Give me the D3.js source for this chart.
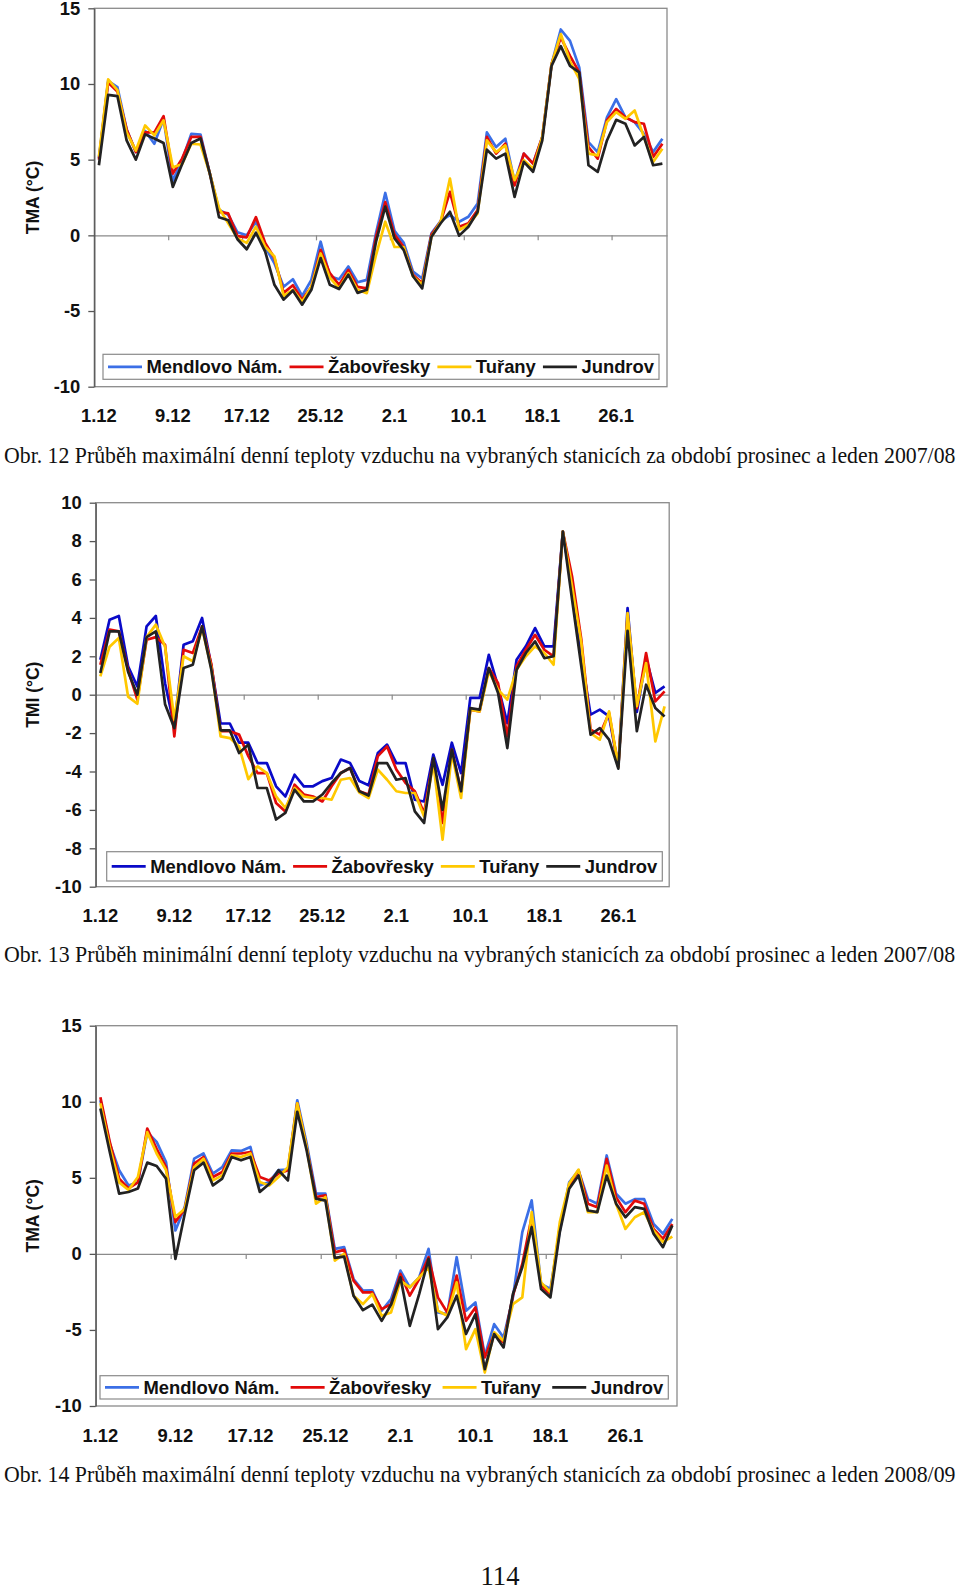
<!DOCTYPE html>
<html>
<head>
<meta charset="utf-8">
<script src="https://cdn.jsdelivr.net/npm/d3@7"></script>
<style>
body { margin: 0; background: #fff; }
svg { display: block; }
</style>
</head>
<body>
<div class="viz"></div>
<script>
// categories: 1.12 .. 31.12, 1.1 .. 31.1
const days = [
    '1.12', '2.12', '3.12', '4.12', '5.12', '6.12', '7.12', '8.12', '9.12', '10.12', '11.12', '12.12', '13.12', '14.12', '15.12', '16.12',
    '17.12', '18.12', '19.12', '20.12', '21.12', '22.12', '23.12', '24.12', '25.12', '26.12', '27.12', '28.12', '29.12', '30.12', '31.12',
    '1.1', '2.1', '3.1', '4.1', '5.1', '6.1', '7.1', '8.1', '9.1', '10.1', '11.1', '12.1', '13.1', '14.1', '15.1', '16.1',
    '17.1', '18.1', '19.1', '20.1', '21.1', '22.1', '23.1', '24.1', '25.1', '26.1', '27.1', '28.1', '29.1', '30.1', '31.1'
];
const tickLabels = ['1.12', '9.12', '17.12', '25.12', '2.1', '10.1', '18.1', '26.1'];
const stations = ['Mendlovo Nám.', 'Žabovřesky', 'Tuřany', 'Jundrov'];
const tmaTicks = [-10, -5, 0, 5, 10, 15];
const tmiTicks = [-10, -8, -6, -4, -2, 0, 2, 4, 6, 8, 10];

// Obr. 12 - TMA 2007/08
const tma0708Mendlovo = [5.1, 10.2, 9.8, 7.0, 5.5, 6.9, 6.05, 7.7, 3.6, 4.95, 6.7, 6.65, 4.1, 1.7, 1.35, 0.2, 0.0, 0.9, -0.75, -1.85, -3.4, -2.9, -4.0, -2.94, -0.42, -2.7, -2.9, -2.06, -3.1, -2.94, 0.15,
    2.8, 0.3, -0.5, -2.4, -2.85, 0.13, 0.95, 1.34, 0.9, 1.23, 2.1, 6.8, 5.83, 6.38, 3.53, 5.4, 4.74, 6.5, 11.3, 13.6, 12.85, 11.1, 6.16, 5.5, 7.8, 9.0, 7.8, 7.48, 6.7, 5.5, 6.38];
const tma0708Zabovresky = [5.0, 10.1, 9.5, 7.0, 5.5, 6.8, 6.8, 7.87, 4.08, 5.07, 6.5, 6.5, 4.1, 1.55, 1.45, -0.05, -0.13, 1.2, -0.5, -1.5, -3.8, -3.3, -4.25, -3.4, -0.96, -2.5, -3.27, -2.28, -3.4, -3.5, -0.1,
    2.2, 0.05, -0.77, -2.6, -3.16, 0.05, 0.9, 2.87, 0.57, 0.8, 1.67, 6.5, 5.4, 6.05, 3.3, 5.4, 4.74, 6.5, 11.3, 13.07, 11.86, 10.77, 5.83, 5.07, 7.6, 8.35, 7.8, 7.48, 7.37, 5.18, 6.05];
const tma0708Turany = [5.2, 10.3, 9.6, 6.8, 5.6, 7.26, 6.6, 7.6, 4.5, 4.7, 6.05, 6.0, 4.1, 1.8, 0.8, -0.2, -0.5, 0.57, -0.75, -1.4, -4.0, -3.6, -4.4, -3.4, -1.2, -2.8, -3.5, -2.5, -3.6, -3.82, -1.3,
    0.9, -0.77, -0.77, -2.7, -3.27, -0.09, 0.9, 3.75, 0.35, 0.7, 1.45, 6.27, 5.5, 5.94, 3.64, 4.96, 4.4, 6.5, 11.3, 13.3, 11.5, 10.33, 5.4, 5.28, 7.48, 8.14, 7.7, 8.25, 6.5, 4.85, 5.72];
const tma0708Jundrov = [4.63, 9.28, 9.2, 6.27, 5.0, 6.67, 6.4, 6.1, 3.2, 4.7, 6.1, 6.4, 4.1, 1.2, 1.0, -0.26, -0.92, 0.17, -1.07, -3.27, -4.25, -3.64, -4.58, -3.6, -1.5, -3.27, -3.55, -2.6, -3.8, -3.6, -0.42,
    1.9, -0.2, -0.98, -2.7, -3.5, -0.09, 0.8, 1.56, -0.02, 0.57, 1.56, 5.66, 5.07, 5.4, 2.54, 4.85, 4.2, 6.27, 11.2, 12.5, 11.2, 10.77, 4.63, 4.19, 6.27, 7.63, 7.37, 5.94, 6.5, 4.63, 4.74];

// Obr. 13 - TMI 2007/08
const tmi0708Mendlovo = [1.82, 3.9, 4.1, 1.48, 0.43, 3.56, 4.1, 0.6, -1.65, 2.6, 2.78, 4.0, 1.5, -1.5, -1.5, -2.5, -2.5, -3.56, -3.56, -4.77, -5.3, -4.17, -4.77, -4.77, -4.5, -4.34, -3.38, -3.56, -4.5, -4.72, -3.04,
    -2.6, -3.56, -3.56, -5.47, -5.56, -3.12, -4.69, -2.5, -4.08, -0.17, -0.17, 2.08, 0.43, -1.48, 1.82, 2.52, 3.47, 2.52, 2.52, 8.5, 5.47, 2.0, -1.04, -0.78, -1.13, -3.75, 4.51, -0.9, 1.9, 0.09, 0.43];
const tmi0708Zabovresky = [1.56, 3.39, 3.3, 1.3, -0.26, 2.86, 3.0, 2.6, -2.17, 2.34, 2.17, 3.56, 1.6, -1.9, -1.9, -2.08, -3.2, -4.08, -4.08, -5.64, -6.08, -4.69, -5.2, -5.3, -5.56, -4.77, -4.08, -3.82, -5.03, -5.2, -3.2,
    -2.7, -3.9, -4.6, -5.03, -6.16, -3.38, -6.68, -2.86, -5.03, -0.78, -0.87, 1.39, 0.6, -2.17, 1.48, 2.34, 3.12, 2.34, 2.0, 8.5, 6.16, 2.86, -1.82, -2.08, -0.95, -3.75, 4.1, -0.7, 2.17, -0.35, 0.17];
const tmi0708Turany = [0.95, 2.5, 2.95, -0.1, -0.47, 3.0, 3.65, 2.5, -1.3, 2.0, 1.74, 3.47, 1.4, -2.17, -2.26, -2.7, -4.4, -3.73, -4.08, -5.3, -5.9, -4.86, -5.3, -5.38, -5.38, -5.47, -4.43, -4.34, -5.1, -5.38, -3.9,
    -4.43, -5.03, -5.12, -5.12, -6.34, -3.56, -7.55, -3.04, -5.38, -0.78, -0.87, 1.22, 0.26, -0.26, 1.3, 2.0, 2.52, 2.17, 1.56, 8.5, 5.64, 2.7, -2.0, -2.34, -0.87, -3.75, 4.25, -0.6, 1.65, -2.43, -0.61];
const tmi0708Jundrov = [1.13, 3.3, 3.3, 1.2, 0.0, 3.0, 3.3, -0.5, -1.74, 1.39, 1.56, 3.56, 1.3, -1.86, -1.86, -3.04, -2.6, -4.86, -4.86, -6.5, -6.16, -4.95, -5.56, -5.56, -5.2, -4.6, -4.08, -3.82, -5.03, -5.25, -3.56,
    -3.56, -4.43, -4.34, -6.08, -6.68, -3.3, -6.0, -2.86, -5.03, -0.7, -0.78, 1.39, 0.09, -2.78, 1.3, 2.17, 2.78, 1.9, 2.0, 8.5, 4.95, 1.47, -2.08, -1.74, -2.34, -3.85, 3.33, -1.9, 0.52, -0.69, -1.13];

// Obr. 14 - TMA 2008/09
const tma0809Mendlovo = [10.1, 7.25, 5.5, 4.5, 4.7, 8.0, 7.36, 6.04, 1.54, 3.08, 6.26, 6.6, 5.27, 5.7, 6.8, 6.77, 7.03, 4.5, 4.73, 5.5, 5.54, 10.1, 7.25, 3.96, 3.96, 0.33, 0.44, -1.65, -2.42, -2.4, -3.74,
    -2.97, -1.1, -2.2, -1.54, 0.33, -3.85, -3.96, -0.22, -3.74, -3.19, -6.7, -4.62, -5.5, -2.86, 1.43, 3.52, -1.98, -2.31, 1.54, 4.7, 5.48, 3.6, 3.3, 6.47, 3.95, 3.3, 3.6, 3.6, 1.97, 1.32, 2.3];
const tma0809Zabovresky = [10.3, 7.36, 4.95, 4.3, 4.7, 8.24, 6.9, 5.7, 2.09, 2.97, 5.93, 6.37, 5.05, 5.38, 6.6, 6.6, 6.7, 5.05, 4.83, 5.27, 5.5, 9.9, 7.0, 3.74, 3.85, 0.1, 0.26, -1.76, -2.53, -2.53, -3.63,
    -3.3, -1.32, -2.75, -1.65, -0.22, -2.86, -3.85, -1.43, -4.4, -3.52, -6.81, -5.27, -5.82, -2.75, -0.66, 2.42, -2.09, -2.64, 1.76, 4.5, 5.48, 3.3, 3.07, 6.25, 3.73, 2.74, 3.5, 3.3, 1.64, 0.99, 1.97];
const tma0809Turany = [9.9, 7.0, 4.7, 4.2, 5.05, 8.0, 6.6, 5.5, 2.42, 2.97, 5.7, 6.26, 4.83, 5.16, 6.48, 6.37, 6.6, 4.73, 4.5, 5.05, 5.7, 9.9, 7.0, 3.3, 3.74, -0.44, 0.0, -2.75, -3.3, -2.64, -4.07,
    -3.85, -1.76, -2.2, -1.54, -0.88, -3.74, -4.07, -1.87, -6.26, -4.95, -7.8, -5.16, -5.71, -3.3, -2.86, 2.75, -1.87, -2.53, 2.09, 4.62, 5.54, 2.74, 2.74, 5.8, 3.3, 1.64, 2.41, 2.74, 1.53, 0.77, 1.14];
const tma0809Jundrov = [9.56, 6.7, 3.96, 4.07, 4.3, 6.0, 5.78, 4.95, -0.33, 2.64, 5.5, 6.0, 4.5, 4.95, 6.37, 6.15, 6.37, 4.07, 4.6, 5.5, 4.83, 9.34, 6.8, 3.63, 3.5, -0.26, -0.18, -2.75, -3.7, -3.34, -4.4,
    -3.34, -1.54, -4.73, -2.64, -0.33, -4.95, -4.18, -2.75, -5.27, -3.96, -7.58, -5.27, -6.15, -2.64, -0.88, 1.76, -2.31, -2.86, 1.43, 4.28, 5.15, 2.85, 2.74, 5.15, 3.3, 2.41, 3.07, 2.96, 1.32, 0.44, 1.86];

const captions = [
    'Obr. 12 Průběh maximální denní teploty vzduchu na vybraných stanicích za období prosinec a leden 2007/08',
    'Obr. 13 Průběh minimální denní teploty vzduchu na vybraných stanicích za období prosinec a leden 2007/08',
    'Obr. 14 Průběh maximální denní teploty vzduchu na vybraných stanicích za období prosinec a leden 2008/09'
];
const pageNumber = '114';

const W = 960;
const H = 1590;
const sans = '"Liberation Sans", Arial, sans-serif';
const serif = '"Liberation Serif", "Times New Roman", serif';

const svg = d3.select('.viz').append('svg')
    .attr('width', W)
    .attr('height', H);
svg.append('rect').attr('width', W).attr('height', H).attr('fill', '#fff');

const charts = [
    {
        title: 'TMA (°C)', series: [tma0708Mendlovo, tma0708Zabovresky, tma0708Turany, tma0708Jundrov],
        colors: ['#3b6fe6', '#e20a0a', '#ffc800', '#222'],
        domain: [-10, 15], ticks: tmaTicks,
        left: 94.3, right: 667, top: 8.3, bottom: 386.7,
        legend: { x: 103, y: 354.3, w: 556, h: 25 },
        caption: captions[0], captionY: 463
    },
    {
        title: 'TMI (°C)', series: [tmi0708Mendlovo, tmi0708Zabovresky, tmi0708Turany, tmi0708Jundrov],
        colors: ['#0a0ac8', '#e20a0a', '#ffc800', '#222'],
        domain: [-10, 10], ticks: tmiTicks,
        left: 95.7, right: 669.2, top: 502.7, bottom: 886.7,
        legend: { x: 106.7, y: 851.7, w: 555.6, h: 29.3 },
        caption: captions[1], captionY: 962
    },
    {
        title: 'TMA (°C)', series: [tma0809Mendlovo, tma0809Zabovresky, tma0809Turany, tma0809Jundrov],
        colors: ['#3b6fe6', '#e20a0a', '#ffc800', '#222'],
        domain: [-10, 15], ticks: tmaTicks,
        left: 95.7, right: 677, top: 1025.7, bottom: 1406,
        legend: { x: 100, y: 1375.7, w: 568.3, h: 23.3 },
        caption: captions[2], captionY: 1482
    }
];

function drawChart(c) {
    const g = svg.append('g');
    const x = d3.scaleLinear().domain([0, days.length]).range([c.left, c.right]);
    const y = d3.scaleLinear().domain(c.domain).range([c.bottom, c.top]);

    // plot frame
    g.append('rect')
        .attr('x', c.left).attr('y', c.top)
        .attr('width', c.right - c.left).attr('height', c.bottom - c.top)
        .attr('fill', 'none').attr('stroke', '#8a8a8a').attr('stroke-width', 1.3);

    // category axis through zero, ticks every 8 days
    const tickIdx = tickLabels.slice(1).map(t => days.indexOf(t));
    g.append('g')
        .attr('transform', `translate(0,${y(0)})`)
        .call(d3.axisBottom(x).tickValues(tickIdx).tickFormat('').tickSize(5).tickSizeOuter(0))
        .call(a => a.selectAll('path, line').attr('stroke', '#8a8a8a').attr('stroke-width', 1.2));

    // value axis (plain hyphen for negatives, as in the original)
    g.append('g')
        .attr('transform', `translate(${c.left},0)`)
        .call(d3.axisLeft(y).tickValues(c.ticks).tickFormat(d => String(d)).tickSize(6).tickPadding(8).tickSizeOuter(0))
        .call(a => a.selectAll('path, line').attr('stroke', '#555').attr('stroke-width', 1.3))
        .call(a => a.selectAll('text')
            .attr('fill', '#111')
            .style('font-family', sans).style('font-weight', 'bold').style('font-size', '18.4px'));

    // category labels at the bottom
    g.append('g').selectAll('text')
        .data(tickLabels)
        .join('text')
        .attr('x', d => x(days.indexOf(d) + 0.5))
        .attr('y', c.bottom + 35.5)
        .attr('text-anchor', 'middle')
        .attr('fill', '#111')
        .style('font-family', sans).style('font-weight', 'bold').style('font-size', '18.4px')
        .text(d => d);

    // axis title
    g.append('text')
        .attr('transform', `translate(${39},${(c.top + c.bottom) / 2}) rotate(-90)`)
        .attr('text-anchor', 'middle')
        .attr('fill', '#111')
        .style('font-family', sans).style('font-weight', 'bold').style('font-size', '17.5px')
        .text(c.title);

    // series
    const line = d3.line()
        .x((d, i) => x(i + 0.5))
        .y(d => y(d));
    g.append('g').selectAll('path')
        .data(c.series)
        .join('path')
        .attr('d', d => line(d))
        .attr('fill', 'none')
        .attr('stroke', (d, i) => c.colors[i])
        .attr('stroke-width', 2.7)
        .attr('stroke-linejoin', 'round');

    // legend
    const L = c.legend;
    const lg = g.append('g');
    lg.append('rect')
        .attr('x', L.x).attr('y', L.y).attr('width', L.w).attr('height', L.h)
        .attr('fill', '#fff').attr('stroke', '#8a8a8a').attr('stroke-width', 1.2);
    const cy = L.y + L.h / 2;
    const items = lg.selectAll('g.item')
        .data(stations)
        .join('g').attr('class', 'item');
    items.append('line')
        .attr('x1', 0).attr('x2', 34).attr('y1', cy).attr('y2', cy)
        .attr('stroke', (d, i) => c.colors[i]).attr('stroke-width', 2.7);
    items.append('text')
        .attr('x', 38.5).attr('y', cy).attr('dy', '0.36em')
        .attr('fill', '#111')
        .style('font-family', sans).style('font-weight', 'bold').style('font-size', '18.4px')
        .text(d => d);
    const widths = items.nodes().map(n => 38.5 + n.querySelector('text').getComputedTextLength());
    const gap = (L.w - 10 - d3.sum(widths)) / (stations.length - 1);
    let pos = L.x + 5;
    items.attr('transform', (d, i) => {
        const t = `translate(${pos},0)`;
        pos += widths[i] + gap;
        return t;
    });

    // caption, squeezed horizontally like the original print
    const cap = svg.append('text')
        .attr('fill', '#111')
        .style('font-family', serif).style('font-size', '23.5px')
        .text(c.caption);
    const natural = cap.node().getComputedTextLength();
    cap.attr('transform', `translate(4,${c.captionY}) scale(${952 / natural},1)`);
}

charts.forEach(drawChart);

const pn = svg.append('text')
    .attr('text-anchor', 'middle')
    .attr('fill', '#111')
    .style('font-family', serif).style('font-size', '27px')
    .text(pageNumber);
pn.attr('transform', `translate(500,1585) scale(${39 / pn.node().getComputedTextLength()},1)`);
</script>
</body>
</html>
